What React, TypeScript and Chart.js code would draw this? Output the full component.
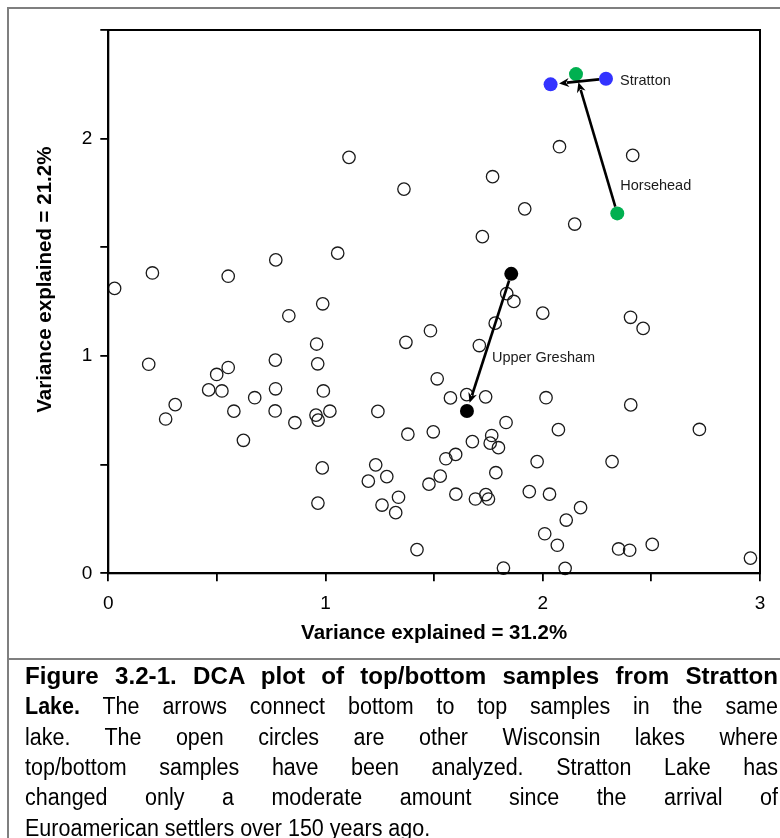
import React, { useEffect, useRef } from "react";
import { Chart, registerables } from "chart.js";

Chart.register(...registerables);

// Other Wisconsin lakes (open circles): DCA axis 1 and axis 2 scores
const otherX = [
  1.108, 1.361, 1.769, 2.077, 2.414, 1.917, 2.147, 1.722, 1.056, 0.771,
  0.203, 0.552, 0.029, 0.987, 0.831, 2.0, 2.404, 2.462, 1.834, 1.867,
  1.781, 1.483, 1.37, 1.708, 0.959, 0.769, 0.964, 0.186, 0.552, 0.499,
  0.462, 0.523, 0.77, 0.99, 0.674, 1.514, 1.575, 1.65, 1.737, 2.015,
  2.405, 0.308, 0.264, 0.578, 0.768, 0.859, 0.956, 0.966, 1.02, 1.241,
  1.831, 0.622, 1.379, 1.496, 1.676, 1.765, 1.758, 1.796, 2.072, 2.721,
  0.985, 1.231, 1.197, 1.282, 1.599, 1.554, 1.974, 2.319, 1.784, 1.528,
  1.476, 0.965, 1.26, 1.323, 1.336, 1.6, 1.69, 1.738, 1.75, 1.938,
  2.031, 2.174, 2.108, 2.009, 2.067, 2.349, 2.4, 2.504, 2.956, 1.421,
  1.819, 2.103,
];
const otherY = [
  1.914, 1.768, 1.825, 1.963, 1.923, 1.677, 1.607, 1.549, 1.473, 1.442,
  1.382, 1.367, 1.311, 1.24, 1.185, 1.197, 1.178, 1.127, 1.287, 1.251,
  1.151, 1.116, 1.063, 1.048, 1.055, 0.981, 0.964, 0.962, 0.947, 0.915,
  0.844, 0.839, 0.849, 0.839, 0.808, 0.895, 0.807, 0.822, 0.812, 0.808,
  0.775, 0.776, 0.71, 0.746, 0.747, 0.693, 0.728, 0.705, 0.746, 0.745,
  0.694, 0.612, 0.64, 0.651, 0.606, 0.634, 0.599, 0.578, 0.661, 0.662,
  0.485, 0.499, 0.424, 0.445, 0.547, 0.527, 0.514, 0.514, 0.463, 0.447,
  0.41, 0.323, 0.314, 0.279, 0.35, 0.364, 0.342, 0.362, 0.342, 0.376,
  0.364, 0.302, 0.245, 0.182, 0.129, 0.112, 0.106, 0.133, 0.07, 0.109,
  0.024, 0.023,
];

// Lakes with bottom -> top arrows
const lakeNames = ["Stratton", "Horsehead", "Upper Gresham"];
const bottomX = [2.291, 2.343, 1.855];
const bottomY = [2.276, 1.656, 1.378];
const topX = [2.036, 2.153, 1.651];
const topY = [2.25, 2.297, 0.747];
const lakeColors = ["#3333ff", "#00b050", "#000000"];

// Axes
const xMin = 0;
const xMax = 3;
const yMin = 0;
const yMax = 2.5;
const tickStep = 0.5;
const xTitle = "Variance explained = 31.2%";
const yTitle = "Variance explained = 21.2%";

const FONT = "'Liberation Sans', Arial, Helvetica, sans-serif";

const captionLines: { bold?: string; text: string; last?: boolean }[] = [
  { bold: "Figure 3.2-1.  DCA plot of top/bottom samples from Stratton", text: "" },
  { bold: "Lake.", text: "  The arrows connect bottom to top samples in the same" },
  { text: "lake.   The open circles are other Wisconsin lakes where" },
  { text: "top/bottom samples have been analyzed.  Stratton Lake has" },
  { text: "changed only a moderate amount since the arrival of" },
  { text: "Euroamerican settlers over 150 years ago.", last: true },
];

const labelOffsets = [
  { dx: 14, dy: 2, from: "bottom" },
  { dx: 3, dy: -27, from: "bottom" },
  { dx: 25, dy: -53, from: "top" },
];

const overlayPlugin = {
  id: "overlay",
  afterDatasetsDraw(chart: any) {
    const ctx = chart.ctx;
    const xs = chart.scales.x;
    const ys = chart.scales.y;
    const ca = chart.chartArea;
    ctx.save();
    // frame
    ctx.strokeStyle = "#000";
    ctx.lineWidth = 2;
    ctx.strokeRect(ca.left, ca.top, ca.right - ca.left, ca.bottom - ca.top);

    // arrows
    const r = 7;
    for (let i = 0; i < lakeNames.length; i++) {
      const x0 = xs.getPixelForValue(bottomX[i]);
      const y0 = ys.getPixelForValue(bottomY[i]);
      const x1 = xs.getPixelForValue(topX[i]);
      const y1 = ys.getPixelForValue(topY[i]);
      const dx = x1 - x0;
      const dy = y1 - y0;
      const len = Math.hypot(dx, dy);
      const ux = dx / len;
      const uy = dy / len;
      const sx = x0 + ux * r;
      const sy = y0 + uy * r;
      const tx = x1 - ux * (r + 1.5);
      const ty = y1 - uy * (r + 1.5);
      const headLen = 10;
      const headW = 4.5;
      const bx = tx - ux * headLen;
      const by = ty - uy * headLen;
      ctx.strokeStyle = "#000";
      ctx.lineWidth = 2.6;
      ctx.beginPath();
      ctx.moveTo(sx, sy);
      ctx.lineTo(bx + ux * 2, by + uy * 2);
      ctx.stroke();
      ctx.fillStyle = "#000";
      ctx.beginPath();
      ctx.moveTo(tx, ty);
      ctx.lineTo(bx - uy * headW, by + ux * headW);
      ctx.lineTo(bx + ux * 3, by + uy * 3);
      ctx.lineTo(bx + uy * headW, by - ux * headW);
      ctx.closePath();
      ctx.fill();

      // label
      const o = labelOffsets[i];
      const ax = o.from === "bottom" ? x0 : x1;
      const ay = o.from === "bottom" ? y0 : y1;
      ctx.font = `14.5px ${FONT}`;
      ctx.fillStyle = "#1a1a1a";
      ctx.textAlign = "left";
      ctx.textBaseline = "middle";
      ctx.fillText(lakeNames[i], ax + o.dx, ay + o.dy);
    }

    // y title
    ctx.save();
    ctx.translate(45, (ca.top + ca.bottom) / 2 - 22);
    ctx.rotate(-Math.PI / 2);
    ctx.font = `bold 20.5px ${FONT}`;
    ctx.fillStyle = "#000";
    ctx.textAlign = "center";
    ctx.textBaseline = "middle";
    ctx.fillText(yTitle, 0, 0);
    ctx.restore();
    ctx.restore();
  },
};

function ChartCanvas() {
  const ref = useRef<HTMLCanvasElement | null>(null);
  useEffect(() => {
    if (!ref.current) return;
    const others = otherX.map((x, i) => ({ x, y: otherY[i] }));
    const lakePts = [
      ...bottomX.map((x, i) => ({ x, y: bottomY[i] })),
      ...topX.map((x, i) => ({ x, y: topY[i] })),
    ];
    const lakePtColors = [...lakeColors, ...lakeColors];
    const chart = new Chart(ref.current, {
      type: "scatter",
      data: {
        datasets: [
          {
            data: others,
            pointRadius: 6.2,
            pointBorderWidth: 1.3,
            pointBorderColor: "#1a1a1a",
            pointBackgroundColor: "rgba(255,255,255,0)",
            clip: false,
          } as any,
          {
            data: lakePts,
            pointRadius: 7,
            pointBorderWidth: 0,
            pointBackgroundColor: lakePtColors,
            pointBorderColor: lakePtColors,
            clip: false,
          } as any,
        ],
      },
      options: {
        responsive: false,
        animation: false,
        devicePixelRatio: 1,
        layout: { padding: { left: 0, top: 30, right: 20, bottom: 0 } },
        plugins: {
          legend: { display: false },
          tooltip: { enabled: false },
        },
        scales: {
          x: {
            type: "linear",
            position: "bottom",
            min: xMin,
            max: xMax,
            afterFit: (s: any) => {
              s.height = 85.7;
            },
            ticks: {
              stepSize: tickStep,
              autoSkip: false,
              maxRotation: 0,
              padding: 11,
              color: "#000",
              font: { family: FONT, size: 19 },
              callback: (v: any) => (Number.isInteger(v) ? String(v) : ""),
            },
            grid: {
              display: true,
              drawOnChartArea: false,
              drawTicks: true,
              tickLength: 8,
              color: "#000",
              lineWidth: 1.8,
            },
            border: { display: true, color: "#000", width: 2 },
            title: {
              display: true,
              text: xTitle,
              color: "#000",
              font: { family: FONT, size: 20.5, weight: "bold" },
              padding: { top: 0, bottom: 13 },
            },
          },
          y: {
            type: "linear",
            min: yMin,
            max: yMax,
            afterFit: (s: any) => {
              s.width = 108.3;
            },
            ticks: {
              stepSize: tickStep,
              autoSkip: false,
              padding: 8,
              color: "#000",
              font: { family: FONT, size: 19 },
              callback: (v: any) => (Number.isInteger(v) ? String(v) : ""),
            },
            grid: {
              display: true,
              drawOnChartArea: false,
              drawTicks: true,
              tickLength: 8,
              color: "#000",
              lineWidth: 1.8,
            },
            border: { display: true, color: "#000", width: 2 },
          },
        },
      },
      plugins: [overlayPlugin],
    } as any);
    return () => chart.destroy();
  }, []);
  return (
    <canvas
      ref={ref}
      width={780}
      height={659}
      style={{ position: "absolute", left: 0, top: 0, width: 780, height: 659 }}
    />
  );
}

export default function App() {
  const captionFont = "'Liberation Sans', Arial, sans-serif";
  const squeezeRegular = 0.935;
  const squeezeBoldLine = 1.05;
  const lineH = 30.3;
  return (
    <>
      <style>{`html,body{margin:0;padding:0;overflow:hidden;background:#fff}`}</style>
      <div style={{ position: "relative", width: 780, height: 838, overflow: "hidden", background: "#fff" }}>
        <div
          style={{
            position: "absolute",
            left: 7,
            top: 7,
            width: 830,
            height: 660,
            borderLeft: "2px solid #7f7f7f",
            borderTop: "2px solid #7f7f7f",
            boxSizing: "border-box",
          }}
        />
        <ChartCanvas />
        <div
          style={{
            position: "absolute",
            left: 7,
            top: 658,
            width: 830,
            height: 200,
            borderLeft: "2px solid #7f7f7f",
            borderTop: "2px solid #7f7f7f",
            boxSizing: "border-box",
          }}
        >
          {captionLines.map((ln, i) => {
            const s = ln.bold && !ln.text ? squeezeBoldLine : squeezeRegular;
            return (
              <div
                key={i}
                style={{
                  position: "absolute",
                  left: 16,
                  top: 1 + i * lineH,
                  width: 753 / s,
                  transform: `scaleX(${s})`,
                  transformOrigin: "left top",
                  fontFamily: captionFont,
                  fontSize: 23,
                  lineHeight: `${lineH}px`,
                  color: "#000",
                  whiteSpace: "nowrap",
                  textAlign: ln.last ? "left" : "justify",
                  textAlignLast: ln.last ? "left" : "justify",
                }}
              >
                {ln.bold ? <b>{ln.bold}</b> : null}
                {ln.text}
              </div>
            );
          })}
        </div>
      </div>
    </>
  );
}
